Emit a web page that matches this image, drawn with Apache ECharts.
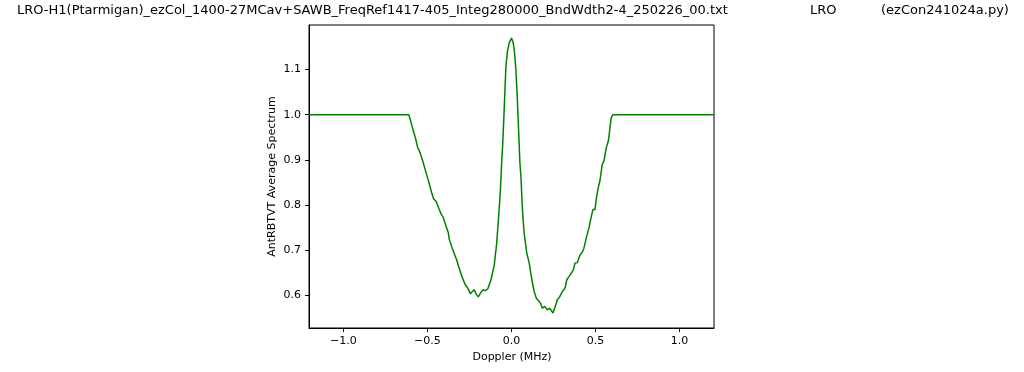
<!DOCTYPE html>
<html>
<head>
<meta charset="utf-8">
<script src="https://cdn.jsdelivr.net/npm/echarts@6/dist/echarts.min.js"></script>
<style>
html,body{margin:0;padding:0;background:#fff;}
#chart{width:1024px;height:372px;}
</style>
</head>
<body>
<div id="chart"></div>
<script>
const titleMain = 'LRO-H1(Ptarmigan)_ezCol_1400-27MCav+SAWB_FreqRef1417-405_Integ280000_BndWdth2-4_250226_00.txt';
const titleMid = 'LRO';
const titleRight = '(ezCon241024a.py)';
const xName = 'Doppler (MHz)';
const yName = 'AntRBTVT Average Spectrum';
const xTicks = [-1.0, -0.5, 0.0, 0.5, 1.0];
const yTicks = [0.6, 0.7, 0.8, 0.9, 1.0, 1.1];

const dopplerMHz = [
  -1.205, -0.611, -0.594, -0.584, -0.572, -0.558, -0.544, -0.528, -0.508, -0.488,
  -0.475, -0.463, -0.449, -0.433, -0.419, -0.405, -0.389, -0.376, -0.370, -0.350,
  -0.326, -0.315, -0.295, -0.275, -0.261, -0.245, -0.235, -0.223, -0.208, -0.198,
  -0.182, -0.168, -0.156, -0.142, -0.122, -0.103, -0.089, -0.077, -0.067, -0.059,
  -0.053, -0.045, -0.039, -0.033, -0.024, -0.013, 0.000, 0.010, 0.018, 0.026,
  0.034, 0.042, 0.050, 0.056, 0.065, 0.075, 0.091, 0.105, 0.121, 0.135,
  0.148, 0.164, 0.174, 0.184, 0.198, 0.214, 0.228, 0.237, 0.247, 0.259,
  0.273, 0.288, 0.303, 0.319, 0.329, 0.342, 0.356, 0.368, 0.378, 0.392,
  0.406, 0.421, 0.431, 0.445, 0.461, 0.477, 0.485, 0.497, 0.504, 0.516,
  0.526, 0.540, 0.550, 0.564, 0.576, 0.584, 0.593, 0.604, 1.205
];
const avgSpectrum = [
  1.000, 1.000, 0.978, 0.964, 0.949, 0.927, 0.916, 0.897, 0.871, 0.845,
  0.827, 0.813, 0.808, 0.793, 0.780, 0.771, 0.752, 0.738, 0.723, 0.701,
  0.678, 0.664, 0.641, 0.623, 0.616, 0.603, 0.601, 0.612, 0.601, 0.596,
  0.606, 0.612, 0.610, 0.613, 0.634, 0.666, 0.712, 0.771, 0.827, 0.890,
  0.930, 0.997, 1.056, 1.108, 1.141, 1.160, 1.170, 1.160, 1.138, 1.101,
  1.041, 0.967, 0.893, 0.864, 0.790, 0.738, 0.693, 0.672, 0.634, 0.608,
  0.593, 0.586, 0.581, 0.571, 0.575, 0.567, 0.571, 0.569, 0.560, 0.573,
  0.590, 0.597, 0.608, 0.616, 0.634, 0.641, 0.649, 0.656, 0.671, 0.672,
  0.688, 0.695, 0.704, 0.727, 0.749, 0.778, 0.790, 0.790, 0.812, 0.838,
  0.853, 0.890, 0.897, 0.927, 0.941, 0.964, 0.993, 1.000, 1.000
];

const FONT = 'DejaVu Sans';
const fmt = v => (v < 0 ? '\u2212' : '') + Math.abs(v).toFixed(1);

const chart = echarts.init(document.getElementById('chart'), null, {renderer: 'canvas'});
chart.setOption({
  animation: false,
  backgroundColor: '#fff',
  grid: {left: 309, right: 310, top: 25, bottom: 44, show: true, borderColor: '#000', borderWidth: 1, backgroundColor: 'transparent'},
  xAxis: {
    type: 'value', min: -1.205, max: 1.205,
    axisLine: {show: true, onZero: false, lineStyle: {color: '#000', width: 1}},
    axisTick: {show: true, length: 4, lineStyle: {color: '#000'}, customValues: xTicks},
    axisLabel: {show: true, color: '#000', fontFamily: FONT, fontSize: 11, margin: 8, customValues: xTicks, formatter: fmt},
    splitLine: {show: false}
  },
  yAxis: {
    type: 'value', min: 0.527, max: 1.199,
    axisLine: {show: true, onZero: false, lineStyle: {color: '#000', width: 1}},
    axisTick: {show: true, length: 4, lineStyle: {color: '#000'}, customValues: yTicks},
    axisLabel: {show: true, color: '#000', fontFamily: FONT, fontSize: 11, margin: 8, customValues: yTicks, formatter: v => v.toFixed(1)},
    splitLine: {show: false}
  },
  graphic: [
    {type: 'text', left: 17, top: 4, style: {text: titleMain, font: '13px "DejaVu Sans"', fill: '#000'}},
    {type: 'text', left: 810, top: 4, style: {text: titleMid, font: '13px "DejaVu Sans"', fill: '#000'}},
    {type: 'text', left: 881, top: 4, style: {text: titleRight, font: '13px "DejaVu Sans"', fill: '#000'}},
    {type: 'text', x: 512, y: 357, style: {text: xName, font: '11px "DejaVu Sans"', fill: '#000', align: 'center', verticalAlign: 'middle'}},
    {type: 'text', x: 272.5, y: 176.5, rotation: Math.PI / 2, style: {text: yName, font: '11px "DejaVu Sans"', fill: '#000', align: 'center', verticalAlign: 'middle'}}
  ],
  series: [{
    type: 'line',
    data: dopplerMHz.map((x, i) => [x, avgSpectrum[i]]),
    showSymbol: false,
    symbol: 'none',
    lineStyle: {color: '#008000', width: 1.5},
    clip: true
  }]
});
</script>
</body>
</html>
